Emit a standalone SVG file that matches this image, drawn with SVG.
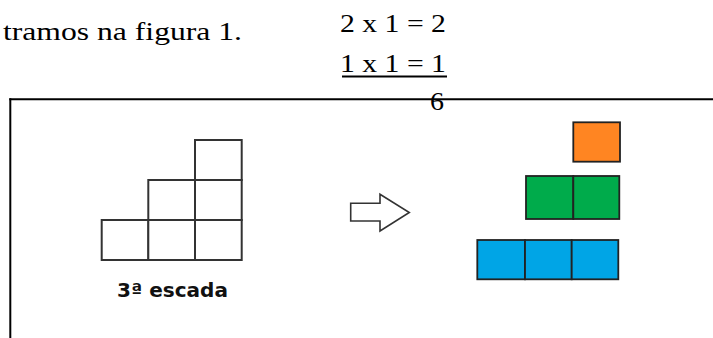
<svg xmlns="http://www.w3.org/2000/svg" width="713" height="338" viewBox="0 0 713 338">
  <style>
    .serif { font-family: "Liberation Serif", "Times New Roman", serif; font-size: 26px; fill: #000; }
    .cell { fill: #fff; stroke: #333; stroke-width: 2; }
    .blk { stroke: #222; stroke-width: 1.8; }
    .org { fill: #FF8522; }
    .grn { fill: #00AB4B; }
    .blu { fill: #00A5E6; }
    .lbl { font-family: "DejaVu Sans", Verdana, sans-serif; font-weight: bold; font-size: 19px; fill: #111; }
  </style>
  <rect width="713" height="338" fill="#fff"/>

  <g id="header-text">
    <text class="serif" x="3" y="40" textLength="239" lengthAdjust="spacingAndGlyphs">tramos na figura 1.</text>
    <text class="serif" x="340" y="32" textLength="106" lengthAdjust="spacingAndGlyphs">2 x 1 = 2</text>
    <text class="serif" x="340" y="72" textLength="106" lengthAdjust="spacingAndGlyphs">1 x 1 = 1</text>
    <line x1="342" y1="76.5" x2="447" y2="76.5" stroke="#000" stroke-width="2"/>
    <text class="serif" x="430" y="110" textLength="14" lengthAdjust="spacingAndGlyphs">6</text>
  </g>

  <g id="frame">
    <line x1="9.3" y1="99.3" x2="713" y2="99.3" stroke="#000" stroke-width="2"/>
    <line x1="10.3" y1="98.3" x2="10.3" y2="338" stroke="#000" stroke-width="2"/>
  </g>

  <g id="staircase">
    <rect class="cell" x="195" y="140" width="46.7" height="40"/>
    <rect class="cell" x="148.3" y="180" width="46.7" height="40"/>
    <rect class="cell" x="195" y="180" width="46.7" height="40"/>
    <rect class="cell" x="101.7" y="220" width="46.7" height="40"/>
    <rect class="cell" x="148.3" y="220" width="46.7" height="40"/>
    <rect class="cell" x="195" y="220" width="46.7" height="40"/>
    <text class="lbl" x="117" y="297" textLength="111" lengthAdjust="spacingAndGlyphs">3ª escada</text>
  </g>

  <g id="arrow">
    <polygon points="350.7,203.3 380,203.3 380,194.3 409.3,212.5 380,231 380,221 350.7,221" fill="#fff" stroke="#333" stroke-width="1.6" stroke-linejoin="miter"/>
  </g>

  <g id="orange-block">
    <rect class="blk org" x="573.3" y="122.3" width="46.7" height="39.4"/>
  </g>

  <g id="green-block">
    <rect class="blk grn" x="526" y="176" width="47.3" height="43"/>
    <rect class="blk grn" x="573.3" y="176" width="46" height="43"/>
  </g>

  <g id="blue-block">
    <rect class="blk blu" x="477.3" y="240" width="47.7" height="39.3"/>
    <rect class="blk blu" x="525" y="240" width="46.7" height="39.3"/>
    <rect class="blk blu" x="571.7" y="240" width="46.6" height="39.3"/>
  </g>
</svg>
